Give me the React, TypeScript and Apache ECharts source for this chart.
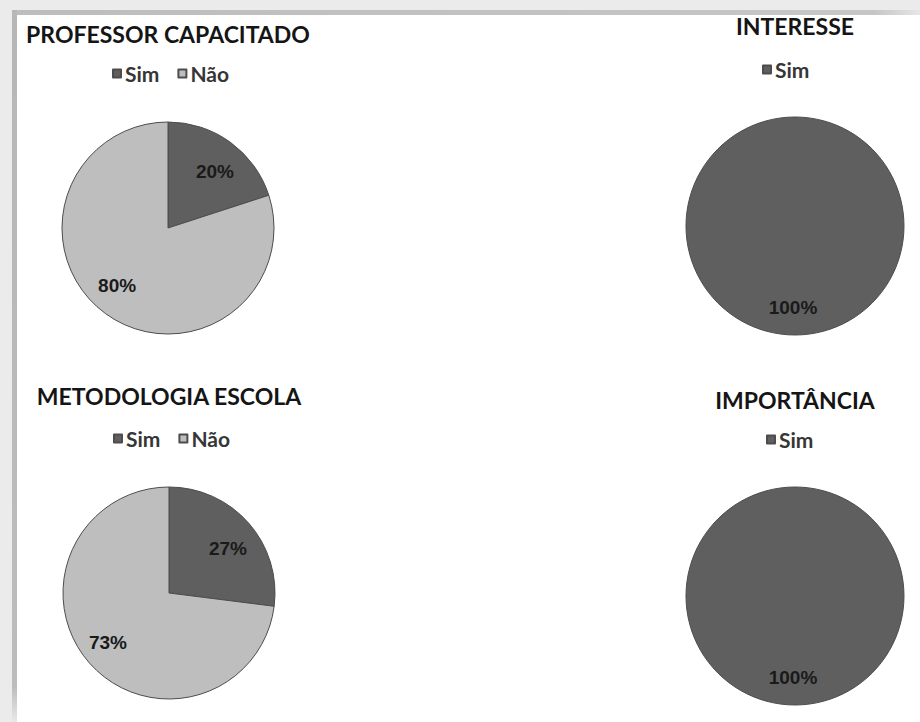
import React, { useEffect, useRef } from "react";
import * as echarts from "echarts";

// Survey answers, in percent
const titles = ["PROFESSOR CAPACITADO", "INTERESSE", "METODOLOGIA ESCOLA", "IMPORTÂNCIA"];
const answerNames = ["Sim", "Não"];
const professorCapacitado = [20, 80];
const interesse = [100];
const metodologiaEscola = [27, 73];
const importancia = [100];

const DARK = "#5f5f5f";
const LIGHT = "#bebebe";
const EDGE = "#4d4d4d";

type PieLayout = {
  cx: number;
  cy: number;
  r: number;
  titleY: number;
  legendX: number;
  legendY: number;
  labelOffsets: [number, number][];
};

const layouts: PieLayout[] = [
  { cx: 168, cy: 228, r: 106, titleY: 22, legendX: 112, legendY: 63, labelOffsets: [[14, -11], [-18, 12]] },
  { cx: 795, cy: 226, r: 109, titleY: 14, legendX: 762, legendY: 59, labelOffsets: [[-2, 24]] },
  { cx: 169, cy: 593, r: 106, titleY: 384, legendX: 113, legendY: 428, labelOffsets: [[17, -7], [-19, 12]] },
  { cx: 795, cy: 596, r: 109, titleY: 388, legendX: 766, legendY: 429, labelOffsets: [[-2, 24]] },
];

const seriesValues = [professorCapacitado, interesse, metodologiaEscola, importancia];

export default function App() {
  const ref = useRef<HTMLDivElement>(null);

  useEffect(() => {
    document.body.style.margin = "0";
    if (!ref.current) return;
    const chart = echarts.init(ref.current, undefined, { renderer: "svg" });

    const series = seriesValues.map((values, i) => {
      const lay = layouts[i];
      return {
        type: "pie",
        name: titles[i],
        center: [lay.cx, lay.cy],
        radius: lay.r,
        startAngle: 90,
        clockwise: true,
        silent: true,
        itemStyle: { borderColor: EDGE, borderWidth: 1 },
        label: {
          show: true,
          position: "inside",
          formatter: "{c}%",
          fontFamily: "Liberation Sans, Arial, sans-serif",
          fontWeight: "bold",
          fontSize: 19,
          color: "#1a1a1a",
        },
        labelLine: { show: false },
        data: values.map((v, j) => ({
          name: answerNames[j],
          value: v,
          itemStyle: { color: j === 0 ? DARK : LIGHT },
          label: { offset: lay.labelOffsets[j] },
        })),
      };
    });

    const title = titles.map((t, i) => ({
      text: t,
      left: layouts[i].cx,
      top: layouts[i].titleY,
      textAlign: "center",
      padding: 0,
      textStyle: {
        fontFamily: "Lato, sans-serif",
        fontWeight: "bold",
        fontSize: 23,
        color: "#151515",
      },
    }));

    const legend = seriesValues.map((values, i) => ({
      left: layouts[i].legendX,
      top: layouts[i].legendY,
      padding: 0,
      icon: "rect",
      itemWidth: 8,
      itemHeight: 8,
      itemGap: 18,
      selectedMode: false,
      data: answerNames.slice(0, values.length),
      textStyle: {
        fontFamily: "Lato, sans-serif",
        fontWeight: "bold",
        fontSize: 21,
        color: "#363636",
        padding: [0, 0, 0, -1],
      },
    }));

    chart.setOption({
      animation: false,
      backgroundColor: "#ffffff",
      title,
      legend,
      series,
      graphic: [
        // drop-shadow frame along the top and left edges
        { type: "rect", shape: { x: 0, y: 0, width: 920, height: 10 }, style: { fill: "#ebebeb" }, silent: true },
        {
          type: "rect",
          shape: { x: 12, y: 10, width: 908, height: 5 },
          style: {
            fill: new echarts.graphic.LinearGradient(0, 0, 1, 0, [
              { offset: 0, color: "#bdbdbd" },
              { offset: 0.95, color: "#c6c6c6" },
              { offset: 1, color: "#e6e6e6" },
            ]),
          },
          silent: true,
        },
        { type: "rect", shape: { x: 0, y: 0, width: 12, height: 722 }, style: { fill: "#ebebeb" }, silent: true },
        {
          type: "rect",
          shape: { x: 12, y: 10, width: 5, height: 712 },
          style: {
            fill: new echarts.graphic.LinearGradient(0, 0, 0, 1, [
              { offset: 0, color: "#b7b7b7" },
              { offset: 0.95, color: "#bcbcbc" },
              { offset: 1, color: "#e8e8e8" },
            ]),
          },
          silent: true,
        },
      ],
    });

    return () => chart.dispose();
  }, []);

  return <div ref={ref} style={{ width: 920, height: 722 }} />;
}
